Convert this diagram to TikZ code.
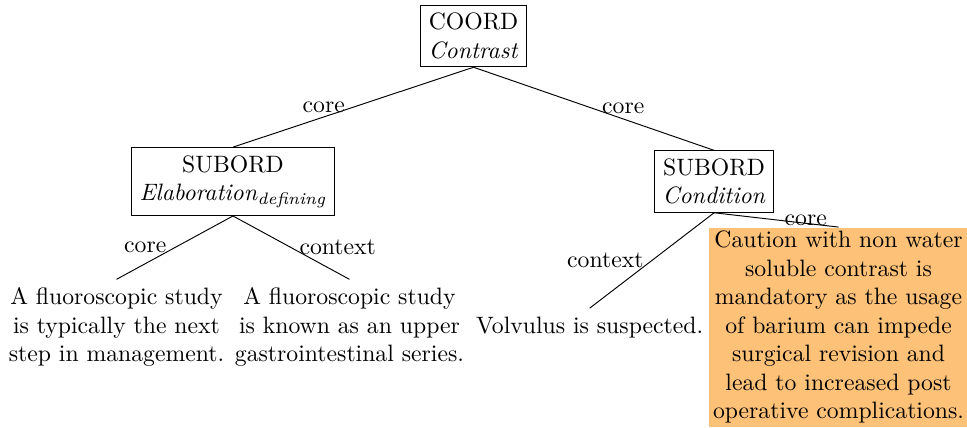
\documentclass[tikz,border=0pt]{standalone}
\usepackage{amsmath}
\usepackage{tikz}
\usepackage{xcolor}
\definecolor{leafhi}{RGB}{253,193,120}

\begin{document}
\begin{tikzpicture}[
        level distance=61.4pt,
        level 1/.style={sibling distance=203pt},
        level 2/.style={sibling distance=98.3pt},
        edge from parent path={(\tikzparentnode.south) -- (\tikzchildnode.north)},
        rel edge/.style={draw, thin},
        relation/.style={draw, rectangle, align=center},
        edu/.style={align=center},
        marked edu/.style={edu, fill=leafhi, inner sep=1.5pt}
    ]
        \useasboundingbox (-199.8pt,15.2pt) rectangle (208.2pt,-165pt);
        % Root relation
        \node[relation] (contrast) {COORD\\\textit{Contrast}}
            child { node[relation] (elab) {SUBORD\\\textit{Elaboration}$_{\textit{defining}}$}
                child { node[edu] (edu1) {A fluoroscopic study\\is typically the next\\step in management.}
                    edge from parent[rel edge] node[left] {core}
                }
                child { node[edu] (edu2) {A fluoroscopic study\\is known as an upper\\gastrointestinal series.}
                    edge from parent[rel edge] node[right] {context}
                }
                edge from parent[rel edge] node[left] {core}
            }
            child { node[relation] (cond) {SUBORD\\\textit{Condition}}
                child[sibling distance=105pt] { node[edu] (edu3) {Volvulus is suspected.}
                    edge from parent[rel edge] node[left] {context}
                }
                child[sibling distance=105pt] { node[marked edu] (edu4) {Caution with non water\\soluble contrast is\\mandatory as the usage\\of barium can impede\\surgical revision and\\lead to increased post\\operative complications.}
                    edge from parent[rel edge] node[right] {core}
                }
                edge from parent[rel edge] node[right] {core}
            };
    \end{tikzpicture}
\end{document}
